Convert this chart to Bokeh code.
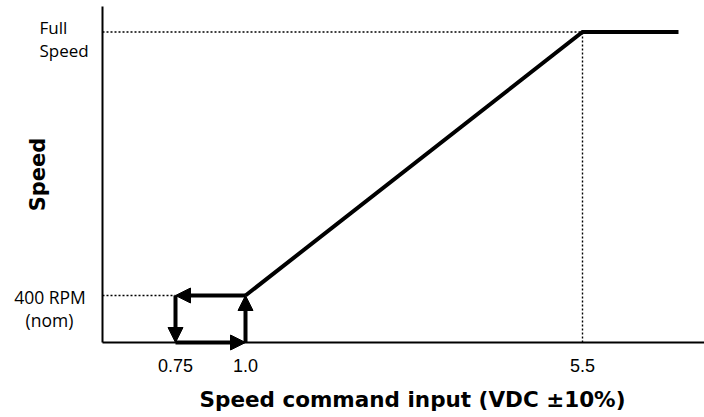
import numpy as np
from bokeh.plotting import figure
from bokeh.models import Arrow, NormalHead
from bokeh.core.properties import value
from bokeh.embed import file_html
from bokeh.resources import INLINE

# ---- data (schematic) ----
volt_ticks = [0.75, 1.0, 5.5]
volt_labels = ["0.75", "1.0", "5.5"]
volt_axis = [0.5, 7.15]                      # extent of the x axis
speed_axis = [0.0, 3300.0]                   # extent of the y axis
speed_nom = 400.0                            # 400 RPM (nom)
speed_full = 3000.0                          # Full speed (schematic)
curve_v = [1.0, 5.5, 6.8]
curve_s = [400.0, 3000.0, 3000.0]
# hysteresis loop: start -> end pairs
loop_v0 = [1.0, 0.75, 0.75, 1.0]
loop_s0 = [400.0, 400.0, 0.0, 0.0]
loop_v1 = [0.75, 0.75, 1.0, 1.0]
loop_s1 = [400.0, 0.0, 0.0, 400.0]

# ---- schematic (broken) axis mapping: value -> plot units ----
_vb = [0.5, 0.75, 1.0, 5.5, 6.8, 7.15]
_vp = [0.0, 73.0, 143.0, 480.0, 576.0, 602.0]
_sb = [0.0, 400.0, 3000.0, 3300.0]
_sp = [0.0, 47.0, 310.5, 336.0]

def sx(v):
    return [float(a) for a in np.interp(v, _vb, _vp)]

def sy(s):
    return [float(a) for a in np.interp(s, _sb, _sp)]

W, H = 704, 417
p = figure(width=W, height=H, output_backend="svg", toolbar_location=None,
           x_range=(-102, 602), y_range=(-75, 342),
           x_axis_type=None, y_axis_type=None,
           min_border=0, min_border_left=0, min_border_right=0,
           min_border_top=0, min_border_bottom=0)
p.outline_line_color = None
p.grid.visible = False
p.background_fill_color = "white"
p.border_fill_color = "white"

# dotted guide lines
dot = dict(line_dash="2 2", line_width=1.4, line_color="black")
p.line(sx([volt_axis[0], 0.75]), sy([speed_nom, speed_nom]), **dot)
p.line(sx([volt_axis[0], 5.5]), sy([speed_full, speed_full]), **dot)
p.line(sx([5.5, 5.5]), sy([0.0, speed_full]), **dot)

# axis lines
p.line(sx([volt_axis[0], volt_axis[0]]), sy(speed_axis), line_width=2, line_color="black")
p.line(sx(volt_axis), sy([0.0, 0.0]), line_width=2, line_color="black")

# speed curve
p.line(sx(curve_v), sy(curve_s), line_width=4, line_color="black", line_join="miter")

# hysteresis arrows
for v0, s0, v1, s1 in zip(loop_v0, loop_s0, loop_v1, loop_s1):
    (x0,), (y0,) = sx([v0]), sy([s0])
    (x1,), (y1,) = sx([v1]), sy([s1])
    p.add_layout(Arrow(x_start=x0, y_start=y0, x_end=x1, y_end=y1,
                       line_width=4, line_color="black",
                       end=NormalHead(size=15, fill_color="black", line_color="black", line_width=1)))

# x tick labels
p.text(x=sx(volt_ticks), y=[sy([0.0])[0] - 23] * len(volt_ticks), text=volt_labels,
       text_align="center", text_baseline="alphabetic",
       text_font=value("Liberation Sans"), text_font_size="18px", text_color="black")

# y tick labels
y0 = sx([volt_axis[0]])[0]
ynom = sy([speed_nom])[0]
yfull = sy([speed_full])[0]
p.text(x=[y0 - 63, y0 - 63], y=[yfull + 4.5, yfull - 18.5], text=["Full", "Speed"],
       text_align="left", text_baseline="alphabetic",
       text_font=value("Open Sans"), text_font_size="17px", text_color="black")
p.text(x=[y0 - 52.5, y0 - 53], y=[ynom - 1, ynom - 24], text=["400 RPM", "(nom)"],
       text_align="center", text_baseline="alphabetic",
       text_font=value("Open Sans"), text_font_size="17.5px", text_color="black")

# axis titles
p.text(x=[y0 - 64.5], y=[168], text=["Speed"], angle=np.pi / 2,
       text_align="center", text_baseline="middle",
       text_font=value("DejaVu Sans"), text_font_style="bold", text_font_size="21px",
       text_color="black")
p.text(x=[y0 + 310], y=[-57], text=["Speed command input (VDC \u00b110%)"],
       text_align="center", text_baseline="alphabetic",
       text_font=value("DejaVu Sans"), text_font_style="bold", text_font_size="21.5px",
       text_color="black")

open("out.html", "w").write(file_html(p, INLINE))
